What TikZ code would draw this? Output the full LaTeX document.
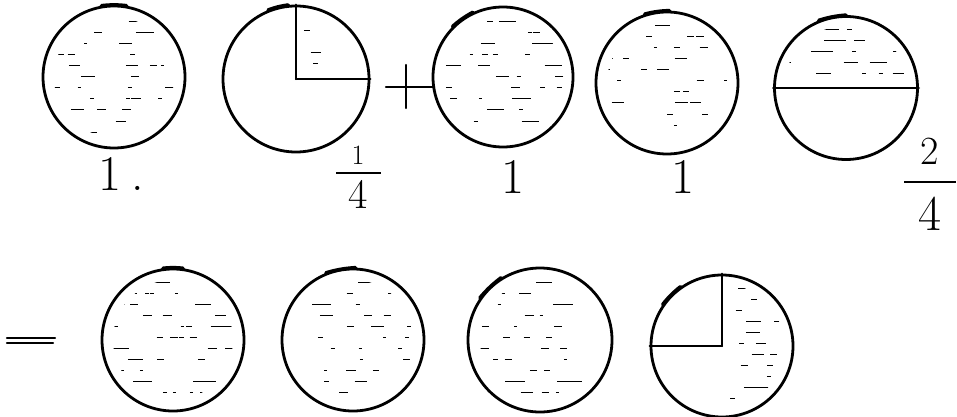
\documentclass[tikz,border=0pt]{standalone}
\usepackage{amsmath}
\usetikzlibrary{positioning}

% rows of short pencil dashes inside a box: left, right, top, bottom, dashes per row
\newcommand{\hatch}[5]{%
  \pgfmathsetmacro{\hnext}{#3+11}
  \foreach \hy in {#3,\hnext,...,#4}{
    \foreach \hk in {1,...,#5}{
      \pgfmathsetmacro{\hx}{#1+rnd*(#2-#1)}
      \pgfmathsetmacro{\hl}{3+rnd*rnd*22}
      \draw[dashmark] (\hx,\hy) -- ++(\hl,0);
    }
  }
}

\begin{document}
\begin{tikzpicture}[
    x=1pt, y=-1pt,
    disc/.style={
        circle,
        draw=black,
        line width=2.8pt,
        inner sep=0pt,
        minimum size=#1
    },
    disc/.default=143pt,
    pen/.style={line width=2.2pt, line cap=round},
    seam/.style={line width=3.6pt, line cap=round},
    dashmark/.style={line width=1pt},
    digit/.style={font=\fontsize{#1}{#1}\selectfont, inner sep=0pt},
    digit/.default=50,
    fracbar/.style={fill=black, inner sep=0pt, minimum height=1.8pt}
]
    \pgfmathsetseed{11}
    \useasboundingbox (0,0) rectangle (957,417);

    % Top row
    \node[disc=142pt] (one) at (114,77) {};
    \node[disc=146pt] (quarter) at (296,79) {};
    \node[disc=140pt] (two) at (503,77) {};
    \node[disc=142pt] (three) at (667,83) {};
    \node[disc=143pt] (half) at (846,88) {};

    % Bottom row
    \node[disc=142pt] (sum1) at (173,340) {};
    \node[disc=142pt] (sum2) at (353,340) {};
    \node[disc=144pt] (sum3) at (540,340) {};
    \node[disc=142pt] (sum4) at (722,346) {};

    % Cut lines
    \draw[pen] (quarter.center) -- (quarter.north);
    \draw[pen] (quarter.center) -- (quarter.east);
    \draw[pen] (half.west) -- (half.east);
    \draw[pen] (sum4.center) -- (sum4.north);
    \draw[pen] (sum4.center) -- (sum4.west);

    % Pencil overlaps on the rims
    \draw[seam] (one.100) to[bend left=6] (one.80);
    \draw[seam] (quarter.112) to[bend left=6] (quarter.96);
    \draw[seam] (two.135) to[bend left=6] (two.115);
    \draw[seam] (three.108) to[bend left=6] (three.88);
    \draw[seam] (half.112) to[bend left=6] (half.90);
    \draw[seam] (sum1.98) to[bend left=6] (sum1.82);
    \draw[seam] (sum2.112) to[bend left=6] (sum2.88);
    \draw[seam] (sum3.145) to[bend left=6] (sum3.122);
    \draw[seam] (sum4.145) to[bend left=6] (sum4.125);

    % Shading
    \begin{scope}
        \clip (one.center) circle (60);
        \hatch{52}{176}{22}{138}{4}
    \end{scope}
    \begin{scope}
        \clip (quarter.center) circle (62);
        \clip (quarter.center) ++(6,-6) rectangle ++(70,-70);
        \hatch{300}{366}{20}{74}{1}
    \end{scope}
    \begin{scope}
        \clip (two.center) circle (60);
        \hatch{440}{566}{22}{136}{4}
    \end{scope}
    \begin{scope}
        \clip (three.center) circle (60);
        \hatch{604}{730}{26}{142}{3}
    \end{scope}
    \begin{scope}
        \clip (half.center) circle (62);
        \clip (half.center) ++(-75,-8) rectangle ++(150,-70);
        \hatch{780}{912}{30}{80}{5}
    \end{scope}
    \begin{scope}
        \clip (sum1.center) circle (60);
        \hatch{110}{236}{282}{400}{4}
    \end{scope}
    \begin{scope}
        \clip (sum2.center) circle (60);
        \hatch{290}{416}{282}{400}{3}
    \end{scope}
    \begin{scope}
        \clip (sum3.center) circle (60);
        \hatch{477}{603}{282}{400}{4}
    \end{scope}
    \begin{scope}
        \clip (sum4.center) circle (62);
        \clip (sum4.center) ++(6,-75) rectangle ++(75,150);
        \hatch{726}{790}{288}{405}{2}
    \end{scope}

    % Plus and equals
    \coordinate (plus) at (406,87);
    \draw[pen] ([xshift=-20]plus) -- ([xshift=28]plus);
    \draw[pen] ([yshift=22]plus) -- ([yshift=-21]plus);
    \coordinate (equals) at (31,341);
    \draw[pen] ([xshift=-24,yshift=3]equals) -- ([xshift=24,yshift=3]equals);
    \draw[pen] ([xshift=-24,yshift=-2]equals) -- ([xshift=22,yshift=-2]equals);

    % Labels
    \node[digit, anchor=base west] (lone) at (98,190) {1\hspace{10pt}.};
    \node[digit, anchor=base] (ltwo) at (513,193) {1};
    \node[digit, anchor=base] (lthree) at (683,193) {1};

    \node[fracbar, minimum width=45pt] (qbar) at (358,173) {};
    \node[digit=28, above=7pt of qbar] (qnum) {1};
    \node[digit=42, below=6pt of qbar] (qden) {4};

    \node[fracbar, minimum width=52pt] (hbar) at (930,182) {};
    \node[digit=40, above=16pt of hbar] (hnum) {2};
    \node[digit=50, below=14pt of hbar] (hden) {4};

\end{tikzpicture}
\end{document}
